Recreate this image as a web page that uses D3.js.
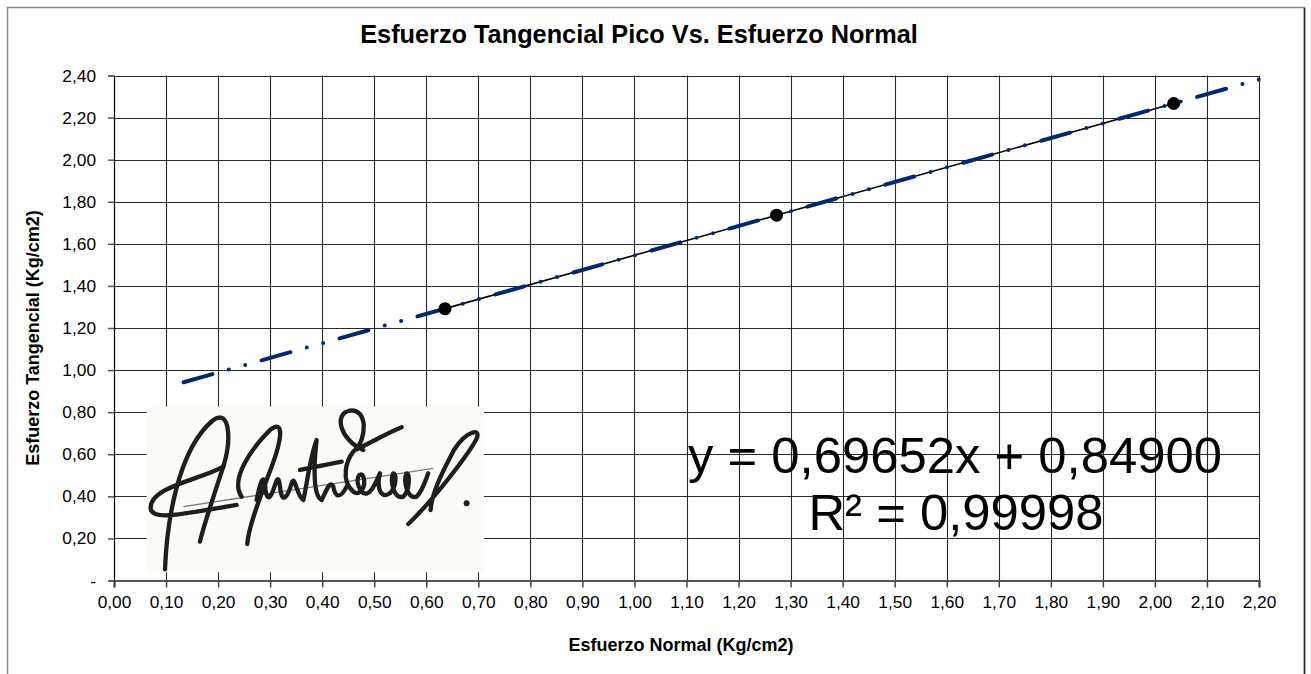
<!DOCTYPE html>
<html>
<head>
<meta charset="utf-8">
<script src="https://cdn.jsdelivr.net/npm/d3@7"></script>
<style>
  html, body { margin: 0; padding: 0; background: #ffffff; }
  svg { display: block; font-family: "Liberation Sans", Arial, sans-serif; }
</style>
</head>
<body>
<svg id="chart" width="1311" height="674"></svg>
<script>
// Peak shear stress vs normal stress (direct shear test)
const normalStress = [0.636, 1.273, 2.036];      // Kg/cm2
const shearStress  = [1.292, 1.736, 2.267];      // Kg/cm2
const xTicks = [0.0, 0.1, 0.2, 0.3, 0.4, 0.5, 0.6, 0.7, 0.8, 0.9, 1.0, 1.1,
                1.2, 1.3, 1.4, 1.5, 1.6, 1.7, 1.8, 1.9, 2.0, 2.1, 2.2];
const yTicks = [0.0, 0.2, 0.4, 0.6, 0.8, 1.0, 1.2, 1.4, 1.6, 1.8, 2.0, 2.2, 2.4];
// Linear trend line reported on the chart
const trendSlope = 0.69652;
const trendIntercept = 0.84900;
const trendRange = [0.13, 2.2];
const rSquared = "0,99998";

const svg = d3.select("#chart");
const fmt = v => v === 0 ? "-" : d3.format(".2f")(v).replace(".", ",");
const fmtX = v => d3.format(".2f")(v).replace(".", ",");

const x = d3.scaleLinear().domain([0, 2.2]).range([114, 1259]);
const y = d3.scaleLinear().domain([0, 2.4]).range([580.5, 75.5]);

// chart frame
svg.append("rect").attr("x", 7.5).attr("y", 7.5).attr("width", 1297).attr("height", 700)
  .attr("fill", "#fff").attr("stroke", "#8a8a8a").attr("stroke-width", 1.5);
svg.append("line").attr("x1", 1304.5).attr("x2", 1304.5).attr("y1", 8).attr("y2", 674)
  .attr("stroke", "#222").attr("stroke-width", 1.5);

// title
svg.append("text").attr("x", 639).attr("y", 43).attr("text-anchor", "middle")
  .attr("font-weight", "bold").attr("font-size", 25.3).attr("fill", "#000")
  .text("Esfuerzo Tangencial Pico Vs. Esfuerzo Normal");

// grid
const grid = svg.append("g");
grid.selectAll("line.h").data(yTicks.filter(d => d > 0)).join("line")
  .attr("x1", x(0)).attr("x2", x(2.2))
  .attr("y1", d => Math.round(y(d)) + 0.5).attr("y2", d => Math.round(y(d)) + 0.5)
  .attr("stroke", "#2a2a2a").attr("stroke-width", 1.1);
grid.selectAll("line.v").data(xTicks.filter(d => d > 0)).join("line")
  .attr("x1", d => Math.round(x(d)) + 0.5).attr("x2", d => Math.round(x(d)) + 0.5)
  .attr("y1", y(2.4)).attr("y2", y(0))
  .attr("stroke", "#2a2a2a").attr("stroke-width", 1.1);

// axes
const yAxis = svg.append("g").attr("transform", `translate(${x(0)},0)`)
  .call(d3.axisLeft(y).tickValues(yTicks).tickFormat(fmt).tickSize(6).tickPadding(12));
yAxis.select(".domain").attr("stroke", "#000").attr("stroke-width", 1.2);
yAxis.selectAll(".tick line").attr("stroke", "#555").attr("stroke-width", 1.5);
yAxis.selectAll("text").attr("font-size", 17.3).attr("fill", "#000")
  .attr("font-family", "Liberation Sans, Arial, sans-serif");

const xAxis = svg.append("g").attr("transform", `translate(0,${y(0)})`)
  .call(d3.axisBottom(x).tickValues(xTicks).tickFormat(fmtX).tickSize(7).tickPadding(8));
xAxis.select(".domain").attr("stroke", "#555").attr("stroke-width", 2.2);
xAxis.selectAll(".tick line").attr("stroke", "#444").attr("stroke-width", 1.5);
xAxis.selectAll("text").attr("font-size", 17.3).attr("fill", "#000")
  .attr("font-family", "Liberation Sans, Arial, sans-serif");

// axis titles
svg.append("text").attr("x", 681).attr("y", 651).attr("text-anchor", "middle")
  .attr("font-weight", "bold").attr("font-size", 18).text("Esfuerzo Normal (Kg/cm2)");
svg.append("text").attr("transform", "translate(39,338) rotate(-90)").attr("text-anchor", "middle")
  .attr("font-weight", "bold").attr("font-size", 18).text("Esfuerzo Tangencial (Kg/cm2)");

// signature
const sig = svg.append("g").attr("transform", "translate(100,340) scale(0.3333)");
sig.append("rect").attr("x", 140).attr("y", 200).attr("width", 1012).attr("height", 497)
  .attr("fill", "#fbfbf7");
sig.append("path").attr("d", "M250,500 L1000,385").attr("stroke", "#7a7a7a")
  .attr("stroke-width", 4).attr("fill", "none");
const sigPaths = [
  "M195,688 C200,560 230,330 340,240 C390,205 395,300 370,380 C340,470 310,560 300,605",
  "M370,380 C300,420 150,440 152,505 C155,545 260,520 410,495",
  "M425,470 C390,420 450,330 510,270 C555,235 545,300 515,380 C485,460 445,560 442,612",
  "M470,480 C480,430 490,400 495,430 C497,470 505,490 520,450 C530,420 535,400 540,440 C545,490 560,480 575,430 C585,400 590,470 610,480 C620,440 630,350 650,300 C640,380 640,470 665,480 C680,450 690,420 700,440 C705,470 720,480 740,440",
  "M600,390 L725,365",
  "M790,330 C720,300 700,220 750,212 C805,205 800,300 765,330 C800,315 860,280 905,262",
  "M760,335 C740,360 720,420 760,455 C780,470 800,440 790,410 C780,390 760,420 785,455 C810,480 830,420 840,400 C830,440 840,480 870,460 C890,440 890,400 880,400 C870,420 880,480 910,470 C930,450 930,400 920,400 C910,420 920,480 950,470 C970,450 980,410 985,400",
  "M925,552 C1000,480 1100,350 1128,300 C1148,262 1100,270 1062,330 C1025,400 995,460 992,510"
];
sig.selectAll("path.s").data(sigPaths).join("path").attr("class", "s").attr("d", d => d)
  .attr("fill", "none").attr("stroke", "#1e1e1e").attr("stroke-width", 13)
  .attr("stroke-linecap", "round").attr("stroke-linejoin", "round");
sig.append("circle").attr("cx", 1100).attr("cy", 490).attr("r", 9).attr("fill", "#1e1e1e");

// measured points joined by a thin line
const pts = normalStress.map((v, i) => [v, shearStress[i]]);
svg.append("path").datum(pts)
  .attr("d", d3.line().x(d => x(d[0])).y(d => y(d[1])))
  .attr("fill", "none").attr("stroke", "#000").attr("stroke-width", 1.6);

// trend line (long dash - dot - dot)
const trendPts = trendRange.map(v => [v, trendSlope * v + trendIntercept]);
svg.append("path").datum(trendPts)
  .attr("d", d3.line().x(d => x(d[0])).y(d => y(d[1])))
  .attr("fill", "none").attr("stroke", "#002a6b").attr("stroke-width", 4)
  .attr("stroke-linecap", "round").attr("stroke-dasharray", "30,17,0,17,0,17")
  .attr("stroke-dashoffset", -2);

svg.append("g").selectAll("circle").data(pts).join("circle")
  .attr("cx", d => x(d[0])).attr("cy", d => y(d[1])).attr("r", 6.5).attr("fill", "#000");

// equation label
const eq = svg.append("g").attr("font-size", 50.8).attr("fill", "#000").attr("text-anchor", "middle");
eq.append("text").attr("x", 955).attr("y", 473)
  .text(`y = ${d3.format(".5f")(trendSlope).replace(".", ",")}x + ${d3.format(".5f")(trendIntercept).replace(".", ",")}`);
eq.append("text").attr("x", 956).attr("y", 530).text(`R² = ${rSquared}`);
</script>
</body>
</html>
